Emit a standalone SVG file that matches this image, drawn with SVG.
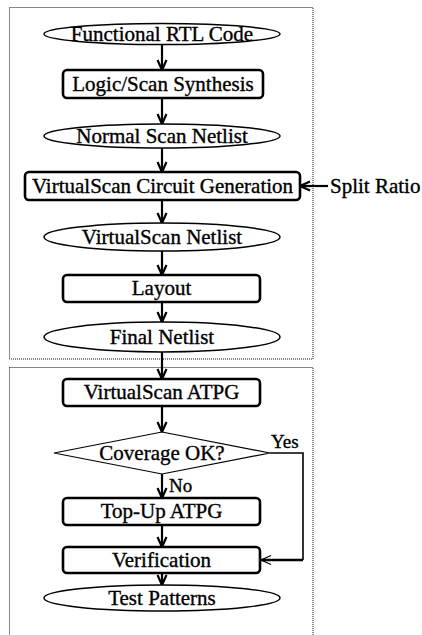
<svg xmlns="http://www.w3.org/2000/svg" width="422" height="635" viewBox="0 0 422 635">
<style>
text{font-family:"Liberation Serif","Times New Roman",serif;font-size:21px;fill:#000;stroke:#000;stroke-width:0.35;text-anchor:middle}
.lbl{font-size:19px;text-anchor:start}
.sr{font-size:21px;text-anchor:start}
.ell{fill:#fff;stroke:#000;stroke-width:1.5}
.box{fill:#fff;stroke:#000;stroke-width:2.6}
.dia{fill:#fff;stroke:#000;stroke-width:1.2}
.grp{fill:none;stroke:#111;stroke-width:1;stroke-dasharray:1,1}
.ar{fill:none;stroke:#000;stroke-width:2.2;marker-end:url(#ah)}
.thin{fill:none;stroke:#000;stroke-width:1.6}
</style>
<defs>
<marker id="ah" markerUnits="userSpaceOnUse" markerWidth="14" markerHeight="14" refX="11" refY="6" orient="auto" viewBox="0 0 14 12">
<path d="M1,1.5 L11,6 L1,10.5" fill="none" stroke="#000" stroke-width="2.2"/>
</marker>
<marker id="ah2" markerUnits="userSpaceOnUse" markerWidth="14" markerHeight="14" refX="11" refY="6" orient="auto" viewBox="0 0 14 12">
<path d="M1,1.5 L11,6 L1,10.5" fill="none" stroke="#000" stroke-width="1.2"/>
</marker>
</defs>
<g id="groups">
<rect class="grp" x="9.5" y="7.5" width="303.5" height="351.5"/>
<rect class="grp" x="9.5" y="367.5" width="303.5" height="275"/>
</g>
<g id="connectors">
<line class="ar" x1="162" y1="45" x2="162" y2="70"/>
<line class="ar" x1="162" y1="98" x2="162" y2="124"/>
<line class="ar" x1="162" y1="148" x2="162" y2="172"/>
<line class="ar" x1="162" y1="200" x2="162" y2="223"/>
<line class="ar" x1="162" y1="251" x2="162" y2="275"/>
<line class="ar" x1="162" y1="302" x2="162" y2="322"/>
<line class="ar" x1="162" y1="352" x2="162" y2="379"/>
<line class="ar" x1="162" y1="406" x2="162" y2="432"/>
<line class="ar" x1="162" y1="474" x2="162" y2="498"/>
<line class="ar" x1="162" y1="525" x2="162" y2="547"/>
<line class="ar" x1="162" y1="573" x2="162" y2="585"/>
<line class="ar" x1="328" y1="186" x2="300" y2="186"/>
<polyline class="thin" points="270,453 303,453 303,560"/>
<line x1="303" y1="560" x2="261" y2="560" stroke="#000" stroke-width="2.4" marker-end="url(#ah2)"/>
<text class="lbl" x="271" y="448">Yes</text>
<text class="lbl" x="169" y="492">No</text>
<text class="sr" x="330" y="193">Split Ratio</text>
</g>
<g id="n1"><ellipse class="ell" cx="162" cy="34" rx="118" ry="10.5"/><text x="162" y="41">Functional RTL Code</text></g>
<g id="n2"><rect class="box" x="63" y="70" width="200" height="28" rx="4"/><text x="163" y="91">Logic/Scan Synthesis</text></g>
<g id="n3"><ellipse class="ell" cx="162" cy="136" rx="118" ry="12"/><text x="162" y="143">Normal Scan Netlist</text></g>
<g id="n4"><rect class="box" x="25" y="172" width="275" height="28" rx="4"/><text x="162.5" y="193">VirtualScan Circuit Generation</text></g>
<g id="n5"><ellipse class="ell" cx="162" cy="237" rx="118" ry="14"/><text x="162" y="244">VirtualScan Netlist</text></g>
<g id="n6"><rect class="box" x="63" y="275" width="197" height="27" rx="4"/><text x="161.5" y="295">Layout</text></g>
<g id="n7"><ellipse class="ell" cx="162" cy="337" rx="118" ry="15"/><text x="162" y="344">Final Netlist</text></g>
<g id="n8"><rect class="box" x="63" y="379" width="197" height="27" rx="4"/><text x="161.5" y="399">VirtualScan ATPG</text></g>
<g id="n9"><polygon class="dia" points="162,432 270,453 162,474 54,453"/><text x="162" y="460">Coverage OK?</text></g>
<g id="n10"><rect class="box" x="63" y="498" width="197" height="27" rx="4"/><text x="161.5" y="518">Top-Up ATPG</text></g>
<g id="n11"><rect class="box" x="63" y="547" width="197" height="26" rx="4"/><text x="161.5" y="567">Verification</text></g>
<g id="n12"><ellipse class="ell" cx="162" cy="598" rx="118" ry="13"/><text x="162" y="605">Test Patterns</text></g>
</svg>
